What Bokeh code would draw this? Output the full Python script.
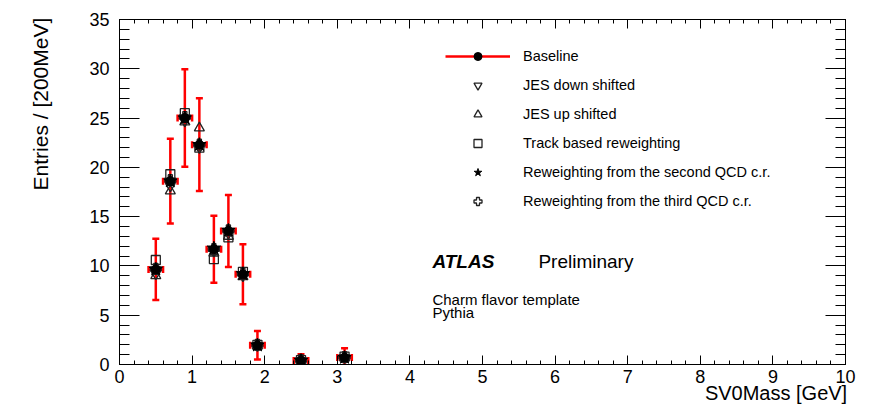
import numpy as np
from bokeh.plotting import figure
from bokeh.models import (Range1d, SingleIntervalTicker, LinearAxis, Label,
                          Legend, LegendItem, CustomJSTickFormatter)
from bokeh.embed import file_html
from bokeh.resources import INLINE

# ---------------- data ----------------
bin_centers = [0.5, 0.7, 0.9, 1.1, 1.3, 1.5, 1.7, 1.9, 2.5, 3.1]
bin_half_width = 0.1
baseline = [9.65, 18.6, 25.0, 22.3, 11.7, 13.55, 9.15, 1.95, 0.4, 0.7]
baseline_err = [3.1, 4.3, 4.95, 4.7, 3.4, 3.65, 3.05, 1.45, 0.65, 0.95]
jes_down = [9.2, 18.1, 24.7, 22.0, 11.5, 13.3, 9.0, 1.9, 0.4, 0.7]
jes_up = [9.0, 17.6, 24.6, 24.0, 11.3, 13.0, 8.9, 1.9, 0.4, 0.7]
track_rw = [10.6, 19.3, 25.5, 22.0, 10.7, 12.9, 9.4, 2.0, 0.45, 0.8]
qcd2_rw = [9.65, 18.6, 25.0, 22.3, 11.8, 13.6, 9.2, 1.95, 0.4, 0.7]
qcd3_rw = [9.7, 18.7, 25.1, 22.3, 11.7, 13.6, 9.2, 2.0, 0.45, 0.75]

legend_labels = ["Baseline", "JES down shifted", "JES up shifted",
                 "Track based reweighting",
                 "Reweighting from the second QCD c.r.",
                 "Reweighting from the third QCD c.r."]
x_title = "SV0Mass [GeV]"
y_title = "Entries / [200MeV]"

FONT = "Liberation Sans"
RED = "#ff0000"
NBSP = "\u00a0"

x = np.array(bin_centers)
yb = np.array(baseline)
ye = np.array(baseline_err)

p = figure(width=869, height=407, x_range=Range1d(0, 10), y_range=Range1d(0, 35),
           output_backend="svg", toolbar_location=None,
           min_border_left=119, min_border_right=24, min_border_top=19,
           min_border_bottom=43)
p.grid.visible = False
p.outline_line_color = "black"
p.outline_line_width = 1
p.background_fill_color = "white"
p.border_fill_color = "white"

# axes
xt = SingleIntervalTicker(interval=1, num_minor_ticks=5)
yt = SingleIntervalTicker(interval=5, num_minor_ticks=5)
xax = p.xaxis[0]
yax = p.yaxis[0]
xax.ticker = xt
xax.major_tick_in = 9
xax.major_tick_out = 0
xax.minor_tick_in = 4
xax.minor_tick_out = 0
xax.major_label_standoff = 5
xax.major_label_text_font = FONT
xax.major_label_text_font_size = "18px"
xax.major_label_text_color = "black"
xax.axis_line_color = "black"

yax.ticker = yt
yax.major_tick_in = 20
yax.major_tick_out = 0
yax.minor_tick_in = 10
yax.minor_tick_out = 0
yax.major_label_standoff = 10
yax.major_label_text_font = FONT
yax.major_label_text_font_size = "18px"
yax.major_label_text_color = "black"
yax.axis_line_color = "black"

blank = CustomJSTickFormatter(code="return ''")
top_ax = LinearAxis(ticker=SingleIntervalTicker(interval=1, num_minor_ticks=5),
                    formatter=blank,
                    major_tick_in=9, major_tick_out=0, minor_tick_in=4, minor_tick_out=0,
                    major_label_standoff=0, axis_line_color="black")
right_ax = LinearAxis(ticker=SingleIntervalTicker(interval=5, num_minor_ticks=5),
                      formatter=blank,
                      major_tick_in=20, major_tick_out=0, minor_tick_in=10, minor_tick_out=0,
                      major_label_standoff=0, axis_line_color="black")
p.add_layout(top_ax, "above")
p.add_layout(right_ax, "right")

# axis titles at the far end of each axis (label is centred on the end point,
# so it is padded with non-breaking spaces to end right at the axis end)
xax.axis_label_align = "end"
yax.axis_label_align = "end"
xax.axis_label = x_title + NBSP * 25
xax.axis_label_text_font = FONT
xax.axis_label_text_font_size = "20px"
xax.axis_label_text_font_style = "normal"
xax.axis_label_text_color = "black"
xax.axis_label_standoff = -4
yax.axis_label = y_title + NBSP * 29
yax.axis_label_text_font = FONT
yax.axis_label_text_font_size = "21px"
yax.axis_label_text_font_style = "normal"
yax.axis_label_text_color = "black"
yax.axis_label_standoff = 34

# error bars
xerr_r = p.segment(x0=x - bin_half_width, y0=yb, x1=x + bin_half_width, y1=yb,
                   line_color=RED, line_width=2.5)
p.segment(x0=x, y0=yb - ye, x1=x, y1=yb + ye, line_color=RED, line_width=2.5)
p.scatter(x=np.concatenate([x, x]), y=np.concatenate([yb - ye, yb + ye]),
          marker="dash", size=7, line_color=RED, line_width=2.5)
p.scatter(x=np.concatenate([x - bin_half_width, x + bin_half_width]),
          y=np.concatenate([yb, yb]), marker="dash", angle=np.pi / 2,
          size=7, line_color=RED, line_width=2.5)

# variations
tr_r = p.scatter(x=x, y=track_rw, marker="square", size=9, fill_color=None,
                 line_color="#222222", line_width=1.3)
jd_r = p.scatter(x=x, y=jes_down, marker="inverted_triangle", size=10, fill_color=None,
                 line_color="#222222", line_width=1.3)
ju_r = p.scatter(x=x, y=jes_up, marker="triangle", size=10, fill_color=None,
                 line_color="#222222", line_width=1.3)
q3_r = p.scatter(x=x, y=qcd3_rw, marker="plus", size=11, fill_color=None,
                 line_color="#222222", line_width=1.3)
q2_r = p.scatter(x=x, y=qcd2_rw, marker="star", size=14, fill_color="black",
                 line_color="black", line_width=1)
base_r = p.scatter(x=x, y=yb, marker="circle", size=9, fill_color="black",
                   line_color="black")

legend = Legend(items=[
    LegendItem(label=legend_labels[0], renderers=[xerr_r, base_r]),
    LegendItem(label=legend_labels[1], renderers=[jd_r]),
    LegendItem(label=legend_labels[2], renderers=[ju_r]),
    LegendItem(label=legend_labels[3], renderers=[tr_r]),
    LegendItem(label=legend_labels[4], renderers=[q2_r]),
    LegendItem(label=legend_labels[5], renderers=[q3_r]),
], location=(326, 153), orientation="vertical", glyph_width=65, glyph_height=20,
    label_height=20, spacing=9, label_standoff=13, padding=0, margin=0,
    border_line_color=None, background_fill_alpha=0,
    label_text_font=FONT, label_text_font_size="14.5px", label_text_color="black")
p.add_layout(legend)

# texts
p.add_layout(Label(x=4.31, y=10.47, text="ATLAS", text_font=FONT, text_font_size="19px",
                   text_font_style="bold italic", text_baseline="middle", text_color="black"))
p.add_layout(Label(x=5.77, y=10.47, text="Preliminary", text_font=FONT, text_font_size="19px",
                   text_baseline="middle", text_color="black"))
p.add_layout(Label(x=4.31, y=6.62, text="Charm flavor template", text_font=FONT,
                   text_font_size="15px", text_baseline="middle", text_color="black"))
p.add_layout(Label(x=4.31, y=5.30, text="Pythia", text_font=FONT,
                   text_font_size="15px", text_baseline="middle", text_color="black"))

open("out.html", "w").write(file_html(p, INLINE))
